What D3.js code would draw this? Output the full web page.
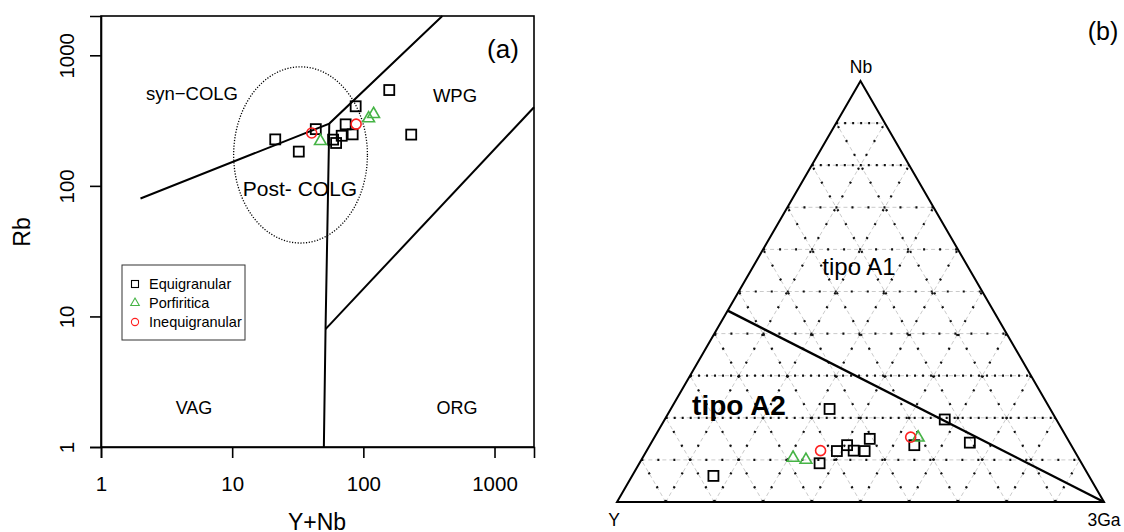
<!DOCTYPE html>
<html lang="en">
<head>
<meta charset="UTF-8">
<title>Rb vs Y+Nb and Nb-Y-3Ga</title>
<script src="https://d3js.org/d3.v7.min.js"></script>
<style>
    body { margin: 0; background: #fff; }
    svg text { font-family: "Liberation Sans", Arial, sans-serif; fill: #000; }
</style>
</head>
<body>
<div id="chart"></div>
<script>
// ---- data: panel (a) Rb vs Y+Nb (ppm) ----
var groups = ["Equigranular", "Porfiritica", "Inequigranular"];
var equiYNb = [21.3, 32.2, 43.4, 58.8, 62.0, 68.4, 73.3, 82.9, 87.4, 157.6, 231.7];
var equiRb  = [227, 183, 272, 226, 213, 242, 296, 248, 407, 542, 247];
var porfYNb = [47.1, 109.7, 119.7];
var porfRb  = [220, 329, 355];
var ineqYNb = [40.4, 88.1];
var ineqRb  = [254, 297];

// Pearce et al. field boundaries [Y+Nb, Rb]
var lineSynColg = [[2, 80], [55, 300], [400, 2000]];
var lineVag     = [[55, 300], [51.5, 8], [50, 1]];
var lineOrg     = [[51.5, 8], [2000, 400]];
var postColgCenter = [33.2, 172.6];   // ellipse centre
var postColgRadius = [0.51, 0.675];   // radii in decades (x, y)
var tickValues = [1, 10, 100, 1000];

// ---- data: panel (b) Nb - Y - 3Ga (fractions) ----
var equiNb = [0.062, 0.221, 0.092, 0.121, 0.135, 0.122, 0.121, 0.150, 0.135, 0.196, 0.141];
var equiGa = [0.167, 0.326, 0.370, 0.391, 0.405, 0.425, 0.448, 0.444, 0.543, 0.575, 0.654];
var porfNb = [0.105, 0.100, 0.153];
var porfGa = [0.309, 0.338, 0.542];
var ineqNb = [0.122, 0.154];
var ineqGa = [0.357, 0.526];
// A1 / A2 divide: Y/Nb = 1.2 to the 3Ga apex  [Nb, Ga]
var lineA1A2 = [[1 / 2.2, 0], [0, 1]];
var gridSteps = [0.1, 0.2, 0.3, 0.4, 0.5, 0.6, 0.7, 0.8, 0.9];
var darkNbLevels = [0.2, 0.3, 0.8, 0.9];

var green = "#46b446", red = "#ff2020";

var svg = d3.select("#chart").append("svg")
    .attr("width", 1124).attr("height", 532);

// ================= panel (a) =================
var x = d3.scaleLog().domain([1, 2000]).range([101, 534]);
var y = d3.scaleLog().domain([1, 2000]).range([447, 16]);

var a = svg.append("g");

a.append("rect")
    .attr("x", 101).attr("y", 16).attr("width", 433).attr("height", 431)
    .attr("fill", "none").attr("stroke", "#000").attr("stroke-width", 1.6);

var xAxis = a.append("g").attr("transform", "translate(0,447)")
    .call(d3.axisBottom(x).tickValues(tickValues).tickFormat(d3.format("d")).tickSize(11).tickPadding(18));
var yAxis = a.append("g").attr("transform", "translate(101,0)")
    .call(d3.axisLeft(y).tickValues(tickValues).tickFormat(d3.format("d")).tickSize(11).tickPadding(8));
[xAxis, yAxis].forEach(function (ax) {
    ax.select(".domain").attr("stroke-width", 1.6);
    ax.selectAll(".tick line").attr("stroke-width", 1.6);
    ax.selectAll(".tick text").attr("font-size", 20.5)
        .style("font-family", "Liberation Sans, Arial, sans-serif");
});
yAxis.selectAll(".tick text")
    .attr("text-anchor", "middle")
    .attr("transform", function () { return "translate(-34,0) rotate(-90)"; })
    .attr("x", 0).attr("dy", "0.35em");

a.append("text").attr("x", 317).attr("y", 530).attr("text-anchor", "middle")
    .attr("font-size", 23).text("Y+Nb");
a.append("text").attr("transform", "translate(30,232) rotate(-90)").attr("text-anchor", "middle")
    .attr("font-size", 23).text("Rb");

var line = d3.line().x(function (d) { return x(d[0]); }).y(function (d) { return y(d[1]); });
[lineSynColg, lineVag, lineOrg].forEach(function (l) {
    a.append("path").attr("d", line(l)).attr("fill", "none")
        .attr("stroke", "#000").attr("stroke-width", 2);
});

// Post-COLG ellipse, drawn in log space
var ell = d3.range(0, 361, 3).map(function (t) {
    var r = t * Math.PI / 180;
    return [Math.pow(10, Math.log10(postColgCenter[0]) + postColgRadius[0] * Math.cos(r)),
            Math.pow(10, Math.log10(postColgCenter[1]) + postColgRadius[1] * Math.sin(r))];
});
a.append("path").attr("d", line(ell) + "Z").attr("fill", "none")
    .attr("stroke", "#000").attr("stroke-width", 1.3).attr("stroke-dasharray", "1.2,1.6");

var fieldLabels = [
    { t: "syn\u2212COLG", x: 192, y: 100, s: 18.5 },
    { t: "WPG", x: 455, y: 102, s: 18.5 },
    { t: "Post- COLG", x: 300, y: 196, s: 21 },
    { t: "VAG", x: 194, y: 414, s: 18 },
    { t: "ORG", x: 457, y: 414, s: 18 },
    { t: "(a)", x: 503, y: 58, s: 26 }
];
a.selectAll(".flab").data(fieldLabels).enter().append("text")
    .attr("x", function (d) { return d.x; }).attr("y", function (d) { return d.y; })
    .attr("text-anchor", "middle").attr("font-size", function (d) { return d.s; })
    .text(function (d) { return d.t; });

// marker helpers
function squares(g, px, py, s) {
    g.selectAll(null).data(px).enter().append("rect")
        .attr("x", function (d, i) { return px[i] - s / 2; })
        .attr("y", function (d, i) { return py[i] - s / 2; })
        .attr("width", s).attr("height", s)
        .attr("fill", "none").attr("stroke", "#000").attr("stroke-width", 1.8);
}
function triangles(g, px, py, s) {
    var sym = d3.symbol().type(d3.symbolTriangle).size(s);
    g.selectAll(null).data(px).enter().append("path")
        .attr("d", sym)
        .attr("transform", function (d, i) { return "translate(" + px[i] + "," + py[i] + ")"; })
        .attr("fill", "none").attr("stroke", green).attr("stroke-width", 1.6);
}
function circles(g, px, py, r) {
    g.selectAll(null).data(px).enter().append("circle")
        .attr("cx", function (d, i) { return px[i]; })
        .attr("cy", function (d, i) { return py[i]; })
        .attr("r", r).attr("fill", "none").attr("stroke", red).attr("stroke-width", 1.6);
}

squares(a, equiYNb.map(x), equiRb.map(y), 10);
triangles(a, porfYNb.map(x), porfRb.map(y), 60);
circles(a, ineqYNb.map(x), ineqRb.map(y), 5);

// legend
var lg = a.append("g");
lg.append("rect").attr("x", 122).attr("y", 265).attr("width", 123).attr("height", 75)
    .attr("fill", "#fff").attr("stroke", "#333").attr("stroke-width", 1);
var rowY = [284, 303, 322];
squares(lg, [135], [rowY[0]], 7);
lg.selectAll("rect").filter(function (d, i) { return i > 0; }).attr("stroke-width", 1.1);
triangles(lg, [135], [rowY[1]], 32);
circles(lg, [135], [rowY[2]], 3.6);
lg.selectAll("path, circle").attr("stroke-width", 1.1);
lg.selectAll(".ltxt").data(groups).enter().append("text")
    .attr("x", 149).attr("y", function (d, i) { return rowY[i] + 5; })
    .attr("font-size", 14.5).text(function (d) { return d; });

// ================= panel (b) =================
var tx = d3.scaleLinear().domain([0, 1]).range([617, 1104]);
var ty = d3.scaleLinear().domain([0, 1]).range([502, 81]);
function tp(nb, ga) { return [tx(ga + nb / 2), ty(nb)]; }

var b = svg.append("g");
var tline = d3.line();

// grid: lines of constant Nb, Ga and Y
gridSteps.forEach(function (v) {
    var segs = [
        { p: [tp(v, 0), tp(v, 1 - v)], h: true },
        { p: [tp(0, v), tp(1 - v, v)], h: false },
        { p: [tp(0, 1 - v), tp(1 - v, 0)], h: false }
    ];
    segs.forEach(function (s) {
        b.append("path").attr("d", tline(s.p)).attr("fill", "none")
            .attr("stroke", "#c4c4c4").attr("stroke-width", 0.9).attr("stroke-dasharray", "4,3");
        var dark = s.h && darkNbLevels.indexOf(v) >= 0;
        b.append("path").attr("d", tline(s.p)).attr("fill", "none")
            .attr("stroke", "#111").attr("stroke-width", 2.2)
            .attr("stroke-dasharray", dark ? "2,6" : "2,14");
    });
});

b.append("path").attr("d", tline([tp(0, 0), tp(0, 1), tp(1, 0)]) + "Z")
    .attr("fill", "none").attr("stroke", "#000").attr("stroke-width", 2);
b.append("path").attr("d", tline(lineA1A2.map(function (d) { return tp(d[0], d[1]); })))
    .attr("fill", "none").attr("stroke", "#000").attr("stroke-width", 2.4);

function pts(nb, ga) { return nb.map(function (d, i) { return tp(d, ga[i]); }); }
var pe = pts(equiNb, equiGa), pp = pts(porfNb, porfGa), pc = pts(ineqNb, ineqGa);
squares(b, pe.map(function (d) { return d[0]; }), pe.map(function (d) { return d[1]; }), 10);
triangles(b, pp.map(function (d) { return d[0]; }), pp.map(function (d) { return d[1]; }), 60);
circles(b, pc.map(function (d) { return d[0]; }), pc.map(function (d) { return d[1]; }), 5);

var tLabels = [
    { t: "Nb", x: 861, y: 73, s: 17.5, w: "normal" },
    { t: "Y", x: 614, y: 526, s: 17.5, w: "normal" },
    { t: "3Ga", x: 1104, y: 526, s: 17.5, w: "normal" },
    { t: "(b)", x: 1103, y: 40, s: 25, w: "normal" },
    { t: "tipo A1", x: 859, y: 275, s: 24, w: "normal" },
    { t: "tipo A2", x: 739, y: 415, s: 28, w: "bold" }
];
b.selectAll(".tlab").data(tLabels).enter().append("text")
    .attr("x", function (d) { return d.x; }).attr("y", function (d) { return d.y; })
    .attr("text-anchor", "middle").attr("font-size", function (d) { return d.s; })
    .attr("font-weight", function (d) { return d.w; })
    .text(function (d) { return d.t; });
</script>
</body>
</html>
